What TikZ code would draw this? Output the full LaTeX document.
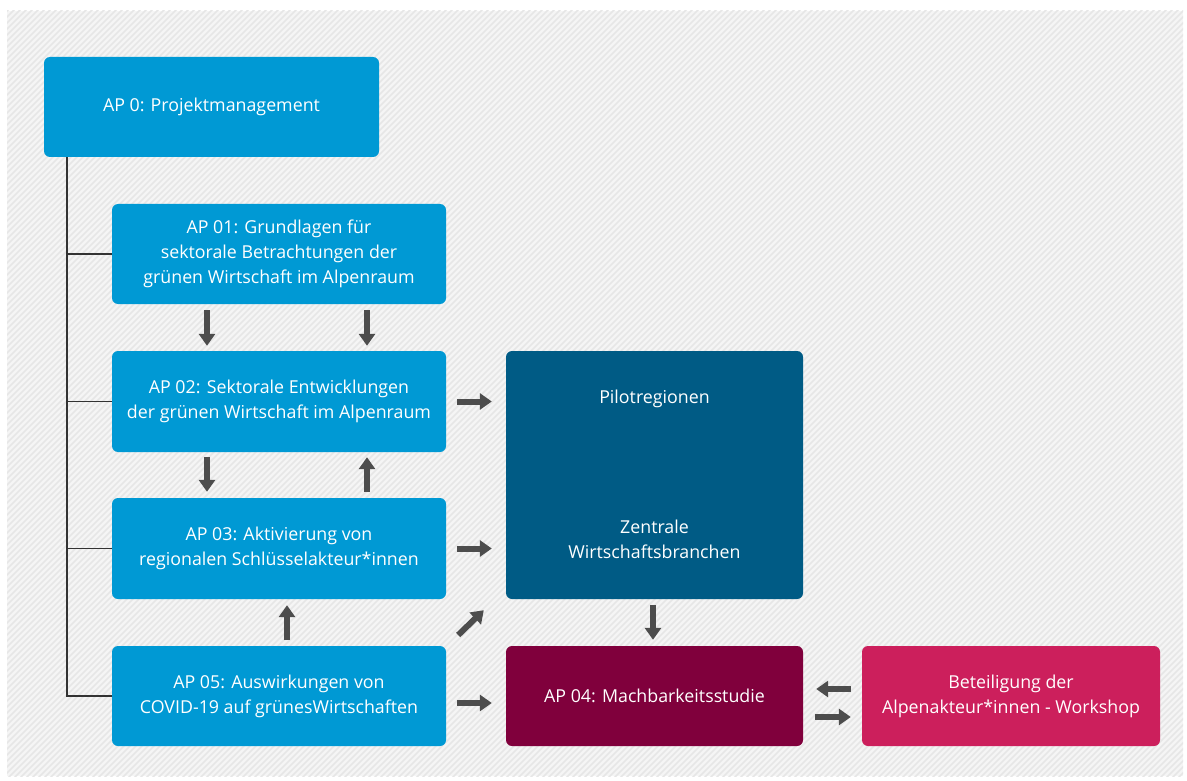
\documentclass[tikz,border=0pt]{standalone}
\usepackage{fontspec}
\setmainfont{Open Sans}
\usetikzlibrary{arrows.meta,calc}
\definecolor{apblue}{HTML}{0099D4}
\definecolor{pilotblue}{HTML}{005B85}
\definecolor{maroon}{HTML}{80003C}
\definecolor{pinkbox}{HTML}{CC1F5C}
\definecolor{arrgray}{HTML}{4D4D4D}
\definecolor{treegray}{HTML}{333333}
\definecolor{hatchbg}{HTML}{F5F5F5}
\definecolor{hatchln}{HTML}{E6E6E6}
\tikzset{
  box/.style={rectangle, rounded corners=6pt, inner sep=4pt, align=center,
    text=white, font=\fontsize{17.8}{25}\selectfont},
  apbox/.style={box, fill=apblue, minimum width=334pt, minimum height=100pt},
  txt/.style={text=white, align=center, font=\fontsize{17.8}{25}\selectfont, inner sep=0pt},
  arr/.style={draw=arrgray, line width=6pt, -{Triangle[width=16pt,length=12pt]}},
  tree/.style={draw=treegray, line width=1.6pt},
}
\begin{document}
\begin{tikzpicture}[x=1pt,y=-1pt]
\useasboundingbox (0,0) rectangle (1187,781);
\fill[white] (0,0) rectangle (1187,781);
\fill[hatchbg] (7,11) rectangle (1183,776);
\begin{scope}
\clip (7,11) rectangle (1183,776);
\foreach \i in {0,6,...,2000} {
  \draw[hatchln, line width=1.5pt] (\i-800,800) -- (\i,0);
}
\end{scope}

% boxes
\node[apbox, minimum width=335pt] (ap0) at (211.5,107) {AP 0: Projektmanagement};
\node[apbox] (ap01) at (279,254) {AP 01: Grundlagen für\\sektorale Betrachtungen der\\grünen Wirtschaft im Alpenraum};
\node[apbox, minimum height=101pt] (ap02) at (279,401.5) {AP 02: Sektorale Entwicklungen\\der grünen Wirtschaft im Alpenraum};
\node[apbox, minimum height=101pt] (ap03) at (279,548.5) {AP 03: Aktivierung von\\regionalen Schlüsselakteur*innen};
\node[apbox] (ap05) at (279,696) {AP 05: Auswirkungen von\\COVID-19 auf grünesWirtschaften};
\node[box, fill=pilotblue, minimum width=297pt, minimum height=248pt] (pilot) at (654.5,475) {};
\node[txt] (pilotA) at (654.5,399) {Pilotregionen};
\node[txt] (pilotB) at (654.5,539) {Zentrale\\Wirtschaftsbranchen};
\node[box, fill=maroon, minimum width=297pt, minimum height=100pt] (ap04) at (654.5,696) {AP 04: Machbarkeitsstudie};
\node[box, fill=pinkbox, minimum width=298pt, minimum height=100pt] (bet) at (1011,696) {Beteiligung der\\Alpenakteur*innen - Workshop};

% tree lines
\coordinate (trunk) at ([xshift=23pt]ap0.south west);
\draw[tree] (trunk) |- (ap05.west);
\draw[tree] (trunk |- ap01.west) -- (ap01.west);
\draw[tree] (trunk |- ap02.west) -- (ap02.west);
\draw[tree] (trunk |- ap03.west) -- (ap03.west);

% vertical arrows
\draw[arr] ([xshift=-72pt,yshift=-6pt]ap01.south) -- ([xshift=-72pt,yshift=5pt]ap02.north);
\draw[arr] ([xshift=88pt,yshift=-6pt]ap01.south) -- ([xshift=88pt,yshift=5pt]ap02.north);
\draw[arr] ([xshift=-72pt,yshift=-5pt]ap02.south) -- ([xshift=-72pt,yshift=6pt]ap03.north);
\draw[arr] ([xshift=88pt,yshift=6pt]ap03.north) -- ([xshift=88pt,yshift=-5pt]ap02.south);
\draw[arr] ([xshift=8pt,yshift=6pt]ap05.north) -- ([xshift=8pt,yshift=-6pt]ap03.south);
\draw[arr] ([xshift=-1.5pt,yshift=-6pt]pilot.south) -- ([xshift=-1.5pt,yshift=6pt]ap04.north);

% horizontal arrows
\draw[arr] ([xshift=11pt]ap02.east) -- ([xshift=-14pt]pilot.west |- ap02.east);
\draw[arr] ([xshift=11pt]ap03.east) -- ([xshift=-14pt]pilot.west |- ap03.east);
\draw[arr] ([xshift=11pt,yshift=-7pt]ap05.east) -- ([xshift=-14pt,yshift=-7pt]ap04.west);
\draw[arr] ([xshift=12pt,yshift=61pt]ap05.east) -- ([xshift=-22pt,yshift=-11pt]pilot.south west);
\draw[arr] ([xshift=-11pt,yshift=7pt]bet.west) -- ([xshift=13pt,yshift=7pt]ap04.east);
\draw[arr] ([xshift=12pt,yshift=-21pt]ap04.east) -- ([xshift=-11pt,yshift=-21pt]bet.west);
\end{tikzpicture}
\end{document}
